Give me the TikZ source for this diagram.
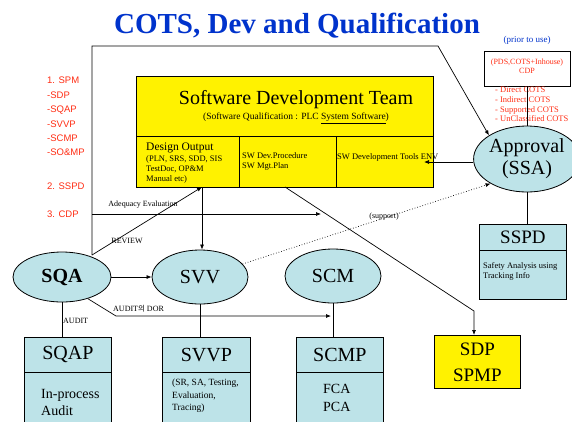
\documentclass[tikz,border=0pt]{standalone}
\usepackage{fontspec}
\setmainfont{Liberation Serif}
\newfontfamily\arialfont{Liberation Sans}
\newfontfamily\krfont{Noto Sans CJK KR}
\usetikzlibrary{shapes.geometric,arrows.meta}
\definecolor{paleblue}{RGB}{189,227,232}
\definecolor{titleblue}{RGB}{0,51,204}
\definecolor{notered}{RGB}{255,45,20}
\newcommand{\fs}[2]{\fontsize{#1}{#2}\selectfont}

\begin{document}
\begin{tikzpicture}[x=1pt,y=-1pt,
  line/.style={draw=black, line width=0.7pt},
  arr/.style={line, -{Latex[length=5pt,width=4pt]}},
  oval/.style={ellipse, draw=black, line width=0.8pt, fill=paleblue, inner sep=0pt, font=\fs{20}{22}},
  panel/.style={rectangle, draw=black, line width=0.8pt, fill=paleblue, inner sep=0pt, anchor=north west},
  ybox/.style={rectangle, draw=black, line width=0.8pt, fill=yellow, inner sep=0pt, anchor=north west},
  small/.style={inner sep=0pt, font=\fs{8}{9.5}},
  redlabel/.style={inner sep=0pt, anchor=west, text=notered, font=\arialfont\fs{9.5}{14.4}, align=left}
]
\clip (0,0) rectangle (572,421);
\fill[white] (0,0) rectangle (572,421);

% title
\node[anchor=base, inner sep=0pt, text=titleblue, font=\bfseries\fs{29}{32}] (title) at (297,33) {COTS, Dev and Qualification};

% plan list on the left
\node[redlabel, anchor=north west] (plans) at (47,77) {1. SPM\\-SDP\\-SQAP\\-SVVP\\-SCMP\\-SO\&MP};
\node[redlabel] (sspdlbl) at (47,186) {2. SSPD};
\node[redlabel] (cdplbl) at (47,214) {3. CDP};

% software development team block
\node[ybox, minimum width=297pt, minimum height=60pt] (team) at (136,76) {};
\node[ybox, minimum width=103pt, minimum height=51pt] (dout) at (136,136) {};
\node[ybox, minimum width=97pt, minimum height=51pt] (proc) at (239,136) {};
\node[ybox, minimum width=97pt, minimum height=51pt] (tools) at (336,136) {};
\node[inner sep=0pt, font=\fs{20}{22}] (teamtitle) at (296,100) {Software Development Team};
\node[inner sep=0pt, font=\fs{9.5}{11}] (teamsub) at (296,118) {(Software Qualification : PLC \underline{System Software})};
\node[anchor=west, inner sep=0pt, font=\fs{11.5}{13}] (dotitle) at (146,148) {Design Output};
\node[anchor=north west, small, align=left, font=\fs{8.5}{10}] (dolist) at (146,155) {(PLN, SRS, SDD, SIS\\TestDoc, OP\&M\\Manual etc)};
\node[anchor=north west, small, align=left, font=\fs{8.5}{10}] (proctext) at (242,152) {SW Dev.Procedure\\SW Mgt.Plan};
\node[anchor=west, small, font=\fs{8.5}{10}] (toolstext) at (337,157) {SW Development Tools ENV};

% COTS dedication box
\node[inner sep=0pt, text=titleblue, font=\fs{9}{10}] (prior) at (527,40) {(prior to use)};
\node[rectangle, draw=black, line width=0.8pt, fill=white, minimum width=86pt, minimum height=35pt, inner sep=0pt] (cdp) at (527,68.5) {};
\node[inner sep=0pt, text=notered, align=center, font=\fs{8}{9}] (cdptext) at (527,66.5) {(PDS,COTS+Inhouse)\\CDP};
\node[anchor=north west, inner sep=0pt, text=notered, align=left, font=\fs{8.5}{9.7}] (cotslist) at (495,87) {- Direct COTS\\- Indirect COTS\\- Supported COTS\\- UnClassified COTS};

% organisations
\node[oval, minimum width=90pt, minimum height=66pt, align=center, font=\fs{20}{22}] (appr) at (527,159) {Approval\\(SSA)};
\node[oval, minimum width=98pt, minimum height=50pt] (sqa) at (62,277) {\textbf{SQA}};
\node[oval, minimum width=96pt, minimum height=54pt] (svv) at (200,277) {SVV};
\node[oval, minimum width=96pt, minimum height=54pt] (scm) at (333,276) {SCM};

% plan documents
\node[panel, minimum width=87pt, minimum height=35pt, font=\fs{20}{22}] (sqap) at (24,337) {SQAP};
\node[panel, minimum width=87pt, minimum height=56pt] (sqapbody) at (24,372) {};
\node[anchor=north west, inner sep=0pt, align=left, font=\fs{14}{17}] (sqaptext) at (41,389) {In-process\\Audit};

\node[panel, minimum width=88pt, minimum height=35pt, font=\fs{20}{22}] (svvp) at (162,337) {SVVP};
\node[panel, minimum width=88pt, minimum height=56pt] (svvpbody) at (162,372) {};
\node[anchor=north west, inner sep=0pt, align=left, font=\fs{9.5}{12.5}] (svvptext) at (172,379) {(SR, SA, Testing,\\Evaluation,\\Tracing)};

\node[panel, minimum width=87pt, minimum height=35pt, font=\fs{20}{22}] (scmp) at (296,337) {SCMP};
\node[panel, minimum width=87pt, minimum height=56pt] (scmpbody) at (296,372) {};
\node[anchor=north west, inner sep=0pt, align=left, font=\fs{14}{18}] (scmptext) at (323,384) {FCA\\PCA};

\node[panel, minimum width=87pt, minimum height=26pt, font=\fs{19}{21}] (sspd) at (479,224) {SSPD};
\node[panel, minimum width=87pt, minimum height=49pt] (sspdbody) at (479,250) {};
\node[anchor=north west, inner sep=0pt, align=left, font=\fs{8.5}{10}] (sspdtext) at (483,262) {Safety Analysis using\\ Tracking Info};

\node[ybox, minimum width=86pt, minimum height=53pt, align=center, font=\fs{19}{26}] (sdp) at (434,335) {SDP\\SPMP};

% connector way points
\coordinate (revstart) at (92,255);
\coordinate (frameleft) at (92,46);
\coordinate (frameright) at (438,46);
\coordinate (doutfoot) at (202,187);
\coordinate (adeq) at (92,214);
\coordinate (adeqend) at (321,214);
\coordinate (sdpfrom) at (285,187);
\coordinate (sdpbend) at (474,311);
\coordinate (toolsin) at (424,162);
\coordinate (auda) at (116,316);
\coordinate (audb) at (331,316);

% connectors
\draw[arr] (revstart) -- (frameleft) -- (frameright) -- (appr.north west);
\draw[arr] (revstart) -- (doutfoot);
\draw[arr] (doutfoot) -- (svv.north -| doutfoot);
\draw[arr] (adeq) -- (adeqend);
\draw[arr] (sdpfrom) -- (sdpbend) -- (sdpbend |- sdp.north);
\draw[arr] (appr.west |- toolsin) -- (toolsin);
\draw[line] (cdp.south) -- (appr.north);
\draw[line] (appr.south) -- (appr.south |- sspd.north);
\draw[arr, dotted] (svv.17) -- (appr.214);
\draw[arr] (sqa) -- (svv);
\draw[line] (sqa.south) -- (sqa.south |- sqap.north);
\draw[line] (svv.south) -- (svv.south |- svvp.north);
\draw[line] (scm.south) -- (scm.south |- scmp.north);
\draw[arr] (sqa.-40) -- (auda) -- (audb);

% connector labels
\node[small] (adeqlbl) at (143,205) {Adequacy Evaluation};
\node[small] (revlbl) at (127,241) {REVIEW};
\node[small] (suplbl) at (384,217) {(support)};
\node[small, anchor=west] (audlbl) at (113,309) {AUDIT{\krfont\fs{7.5}{9}의} DOR};
\node[small, anchor=west] (auditlbl) at (63,321) {AUDIT};
\end{tikzpicture}
\end{document}
